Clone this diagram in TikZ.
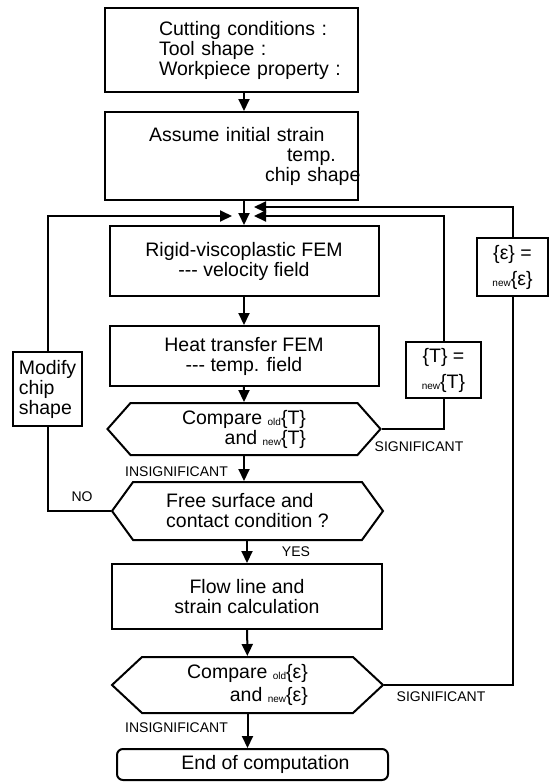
\documentclass[tikz,border=0pt]{standalone}
\usepackage{fontspec}
\setmainfont{Liberation Sans}
\usetikzlibrary{arrows.meta,shapes.symbols}
\tikzset{
  dob/.style={draw,line width=2pt,inner sep=0pt,align=center},
  hat/.style={draw,line width=2pt,inner sep=0pt,shape=signal,signal to=west and east},
  nyil/.style={line width=2pt,-{Triangle[length=12pt,width=11pt]}},
  vonal/.style={line width=2pt},
  felirat/.style={font=\fontsize{14}{14}\selectfont},
}
\newcommand{\kis}[1]{\raisebox{-1pt}{\fontsize{10}{10}\selectfont #1}}

\begin{document}
\begin{tikzpicture}[x=1pt,y=-1pt,font=\fontsize{19.5}{20}\selectfont]
  \useasboundingbox (0,0) rectangle (556,782);
  % main column
  \node[dob,minimum height=84pt,text width=253pt,align=left] (felt) at (231.5,50)
    {\hspace*{54pt}Cutting conditions :\\ \hspace*{54pt}Tool shape :\\ \hspace*{54pt}Workpiece property :};
  \node[dob,minimum height=88pt,text width=253pt,align=left] (kezd) at (231.5,156)
    {\hspace*{44pt}Assume initial strain\\ \hspace*{182pt}temp.\\ \hspace*{160pt}chip~shape};
  \node[dob,minimum width=269pt,minimum height=70pt] (fem) at (244,261)
    {Rigid-viscoplastic FEM\\-{}-{}- velocity field};
  \node[dob,minimum width=269pt,minimum height=60pt] (ho) at (244,356)
    {Heat transfer FEM\\-{}-{}- temp. field};
  \node[hat,minimum width=273pt,minimum height=52pt,signal pointer angle=97,align=right] (osszT) at (244,429)
    {Compare \kis{old}\{T\}\\and \kis{new}\{T\}};
  \node[hat,minimum width=271pt,minimum height=58pt,signal pointer angle=108,align=left] (frei) at (247.5,511)
    {Free surface and\\contact condition ?};
  \node[dob,minimum width=270pt,minimum height=65pt] (flow) at (247,596.5)
    {Flow line and\\strain calculation};
  \node[hat,minimum width=271pt,minimum height=56pt,signal pointer angle=86,align=right] (osszE) at (247.5,685)
    {Compare \kis{old}\{ε\}\\[3pt]and \kis{new}\{ε\}};
  \node[dob,rounded corners=6pt,minimum width=271pt,minimum height=31pt] (vege) at (252.5,764.5)
    {\hspace*{26pt}End of computation};
  % side boxes
  \node[dob,minimum width=69pt,minimum height=74pt,align=left] (modosit) at (47.5,389)
    {Modify\\chip\\shape};
  \node[dob,minimum width=75pt,minimum height=56pt] (ujT) at (443.5,370)
    {\{T\} =\\[6pt]\kis{new}\{T\}};
  \node[dob,minimum width=71pt,minimum height=58pt] (ujE) at (512.5,267)
    {\{ε\} =\\[6pt]\kis{new}\{ε\}};
  % free ends of the loops
  \coordinate (bal) at (232,216);
  \coordinate (jobbT) at (254,216);
  \coordinate (jobbE) at (254,207);
  % arrows
  \draw[nyil] (felt.south -| fem) -- (kezd.north -| fem);
  \draw[nyil] (kezd.south -| fem) -- (fem.north);
  \draw[nyil] (fem) -- (ho);
  \draw[nyil] (ho) -- (osszT);
  \draw[nyil] (osszT.south) -- (osszT.south |- frei.north);
  \draw[nyil] (frei.south -| flow) -- (flow.north);
  \draw[nyil] (flow) -- (osszE);
  \draw[nyil] (osszE.south) -- (osszE.south |- vege.north);
  \draw[nyil] (modosit.north) |- (bal);
  \draw[nyil] (ujT.north) |- (jobbT);
  \draw[nyil] (ujE.north) |- (jobbE);
  \draw[vonal] (modosit.south) |- (frei.west);
  \draw[vonal] (osszT.east) -| (ujT.south);
  \draw[vonal] (osszE.east) -| (ujE.south);
  % labels
  \node[felirat] (nem) at (82,497) {NO};
  \node[felirat] (lenyeg1) at (176.5,472) {INSIGNIFICANT};
  \node[felirat] (jelent1) at (419,447) {SIGNIFICANT};
  \node[felirat] (igen) at (296,552) {YES};
  \node[felirat] (jelent2) at (441,697) {SIGNIFICANT};
  \node[felirat] (lenyeg2) at (176.5,728) {INSIGNIFICANT};
\end{tikzpicture}
\end{document}
